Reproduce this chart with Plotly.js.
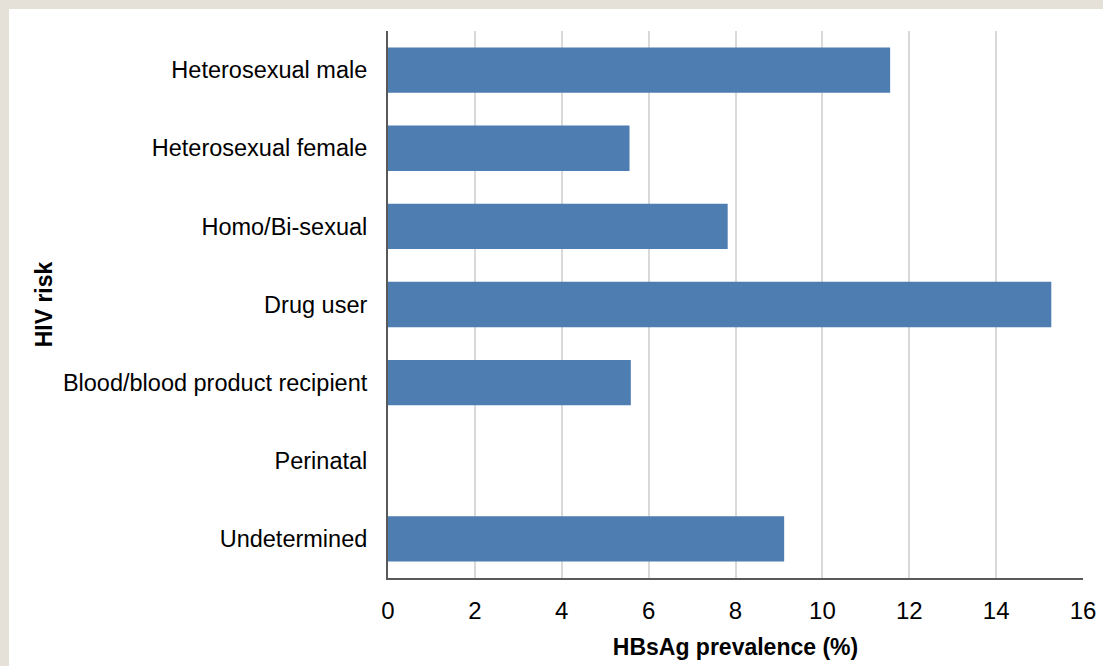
<!DOCTYPE html>
<html>
<head>
<meta charset="utf-8">
<script src="https://cdn.plot.ly/plotly-3.0.1.min.js"></script>
<style>
  html, body { margin: 0; padding: 0; background: #e5e0d8; width: 1103px; height: 666px; overflow: hidden; }
  #chart { position: absolute; left: 9px; top: 9px; width: 1094px; height: 657px; background: #ffffff; }
</style>
</head>
<body>
<div id="chart"></div>
<script>
const categories = [
  "Heterosexual male",
  "Heterosexual female",
  "Homo/Bi-sexual",
  "Drug user",
  "Blood/blood product recipient",
  "Perinatal",
  "Undetermined"
];
const prevalence = [11.56, 5.56, 7.82, 15.27, 5.59, 0, 9.12];
const xTicks = [0, 2, 4, 6, 8, 10, 12, 14, 16];

const trace = {
  type: "bar",
  orientation: "h",
  y: categories,
  x: prevalence,
  marker: { color: "#4e7db1", line: { width: 0 } },
  hoverinfo: "x+y"
};

const layout = {
  width: 1094,
  height: 657,
  margin: { l: 379, r: 20, t: 22, b: 88 },
  paper_bgcolor: "#ffffff",
  plot_bgcolor: "#ffffff",
  bargap: 0.42,
  showlegend: false,
  font: { family: "Liberation Sans, Arial, sans-serif", color: "#000000" },
  xaxis: {
    range: [0, 16],
    tickvals: xTicks,
    ticktext: xTicks.map(String),
    tickfont: { size: 24, color: "#000000" },
    showgrid: true,
    gridcolor: "#d9d9d9",
    gridwidth: 2,
    zeroline: false,
    showline: true,
    linecolor: "#595959",
    linewidth: 2,
    ticks: "",
    ticklen: 0,
    ticklabelstandoff: 10,
    title: { text: "<b>HBsAg prevalence (%)</b>", font: { size: 23, color: "#000000" }, standoff: 16 },
    fixedrange: true
  },
  yaxis: {
    autorange: "reversed",
    tickfont: { size: 23.5, color: "#000000" },
    showgrid: false,
    zeroline: false,
    showline: true,
    linecolor: "#595959",
    linewidth: 2,
    ticks: "",
    ticklabelstandoff: 14,
    title: { text: "<b>HIV risk</b>", font: { size: 23, color: "#000000" }, standoff: 4 },
    fixedrange: true
  }
};

Plotly.newPlot("chart", [trace], layout, { displayModeBar: false, staticPlot: true });
</script>
</body>
</html>
